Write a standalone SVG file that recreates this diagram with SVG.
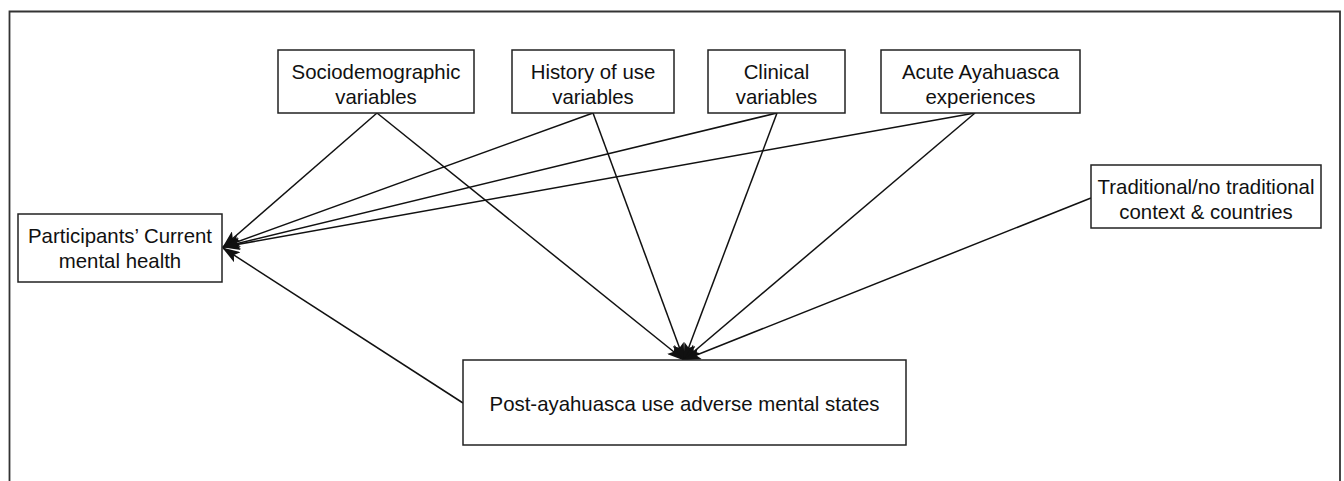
<svg xmlns="http://www.w3.org/2000/svg" width="1344" height="481" viewBox="0 0 1344 481">
  <style>
    .box { fill: #ffffff; stroke: #222222; stroke-width: 1.5; }
    .frame { fill: none; stroke: #333333; stroke-width: 1.8; }
    .lbl { font-family: "Liberation Sans", Arial, Helvetica, sans-serif; font-size: 20.4px; fill: #111111; text-anchor: middle; }
    .conn { stroke: #111111; stroke-width: 1.5; fill: none; marker-end: url(#ah); }
  </style>
  <defs>
    <marker id="ah" viewBox="0 0 18 12" markerWidth="18" markerHeight="12" refX="17" refY="6" orient="auto" markerUnits="userSpaceOnUse">
      <path d="M0,0 L18,6 L0,12 L4,6 z" fill="#111111"/>
    </marker>
  </defs>
  <rect width="1344" height="481" fill="#ffffff"/>
  <path class="frame" d="M9.5,490 V11.5 H1340 V490"/>

  <g id="connectors">
    <line class="conn" x1="377" y1="113" x2="223" y2="247"/>
    <line class="conn" x1="593" y1="113" x2="223" y2="247"/>
    <line class="conn" x1="777" y1="113" x2="223" y2="247"/>
    <line class="conn" x1="975" y1="113" x2="223" y2="247"/>
    <line class="conn" x1="463" y1="403" x2="223" y2="248"/>
    <line class="conn" x1="377" y1="113" x2="684" y2="360"/>
    <line class="conn" x1="593" y1="113" x2="684" y2="360"/>
    <line class="conn" x1="777" y1="113" x2="684" y2="360"/>
    <line class="conn" x1="975" y1="113" x2="684" y2="360"/>
    <line class="conn" x1="1091" y1="198" x2="684" y2="360"/>
  </g>

  <g id="sociodemographic">
    <rect class="box" x="278" y="50" width="196" height="63"/>
    <text class="lbl" x="376" y="79">Sociodemographic</text>
    <text class="lbl" x="376" y="104">variables</text>
  </g>
  <g id="history">
    <rect class="box" x="512" y="50" width="162" height="63"/>
    <text class="lbl" x="593" y="79">History of use</text>
    <text class="lbl" x="593" y="104">variables</text>
  </g>
  <g id="clinical">
    <rect class="box" x="708" y="50" width="137" height="63"/>
    <text class="lbl" x="776.5" y="79">Clinical</text>
    <text class="lbl" x="776.5" y="104">variables</text>
  </g>
  <g id="acute">
    <rect class="box" x="881" y="50" width="199" height="63"/>
    <text class="lbl" x="980.5" y="79">Acute Ayahuasca</text>
    <text class="lbl" x="980.5" y="104">experiences</text>
  </g>
  <g id="traditional">
    <rect class="box" x="1091" y="165" width="230" height="63"/>
    <text class="lbl" x="1206" y="194">Traditional/no traditional</text>
    <text class="lbl" x="1206" y="219">context &amp; countries</text>
  </g>
  <g id="participants">
    <rect class="box" x="18" y="214" width="204" height="68"/>
    <text class="lbl" x="120" y="243">Participants’ Current</text>
    <text class="lbl" x="120" y="268">mental health</text>
  </g>
  <g id="post">
    <rect class="box" x="463" y="360" width="443" height="85"/>
    <text class="lbl" x="684.5" y="411">Post-ayahuasca use adverse mental states</text>
  </g>
</svg>
